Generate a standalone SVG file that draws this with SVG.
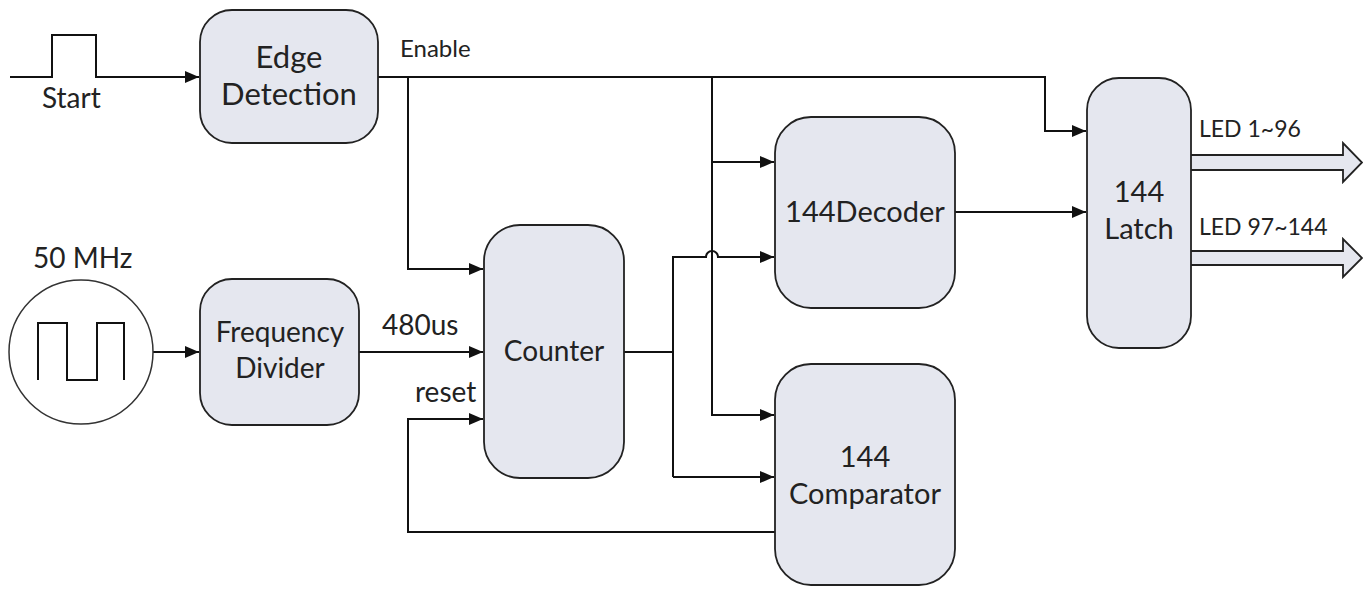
<svg xmlns="http://www.w3.org/2000/svg" width="1363" height="589" viewBox="0 0 1363 589">
<style>
.box{fill:#e5e7ef;stroke:#222;stroke-width:1.8}
.ln{fill:none;stroke:#111;stroke-width:2}
.t{font-family:Lato,"Liberation Sans",sans-serif;font-size:28px;fill:#222}
.n{font-size:29px}
.s{font-family:Lato,"Liberation Sans",sans-serif;font-size:23px;fill:#222}
.c{text-anchor:middle}
</style>
<defs>
<marker id="ah" viewBox="0 0 14 12" refX="14" refY="6" markerWidth="14" markerHeight="12" markerUnits="userSpaceOnUse" orient="auto">
<path d="M0,0 L14,6 L0,12 Z" fill="#111"/>
</marker>
</defs>
<rect width="1363" height="589" fill="#fff"/>
<g id="connectors">
<path class="ln" d="M10,77 H52 V35 H96 V77 H199" marker-end="url(#ah)"/>
<path class="ln" d="M378,77 H1045 V131 H1086" marker-end="url(#ah)"/>
<path class="ln" d="M408,77 V269 H483" marker-end="url(#ah)"/>
<path class="ln" d="M712,77 V415 H774" marker-end="url(#ah)"/>
<path class="ln" d="M712,162 H774" marker-end="url(#ah)"/>
<path class="ln" d="M153,352 H199" marker-end="url(#ah)"/>
<path class="ln" d="M359,352 H483" marker-end="url(#ah)"/>
<path class="ln" d="M624,352 H673"/>
<path class="ln" d="M673,477 V257 H706 A6,6 0 0 1 718,257 H774" marker-end="url(#ah)"/>
<path class="ln" d="M673,477 H774" marker-end="url(#ah)"/>
<path class="ln" d="M955,212 H1086" marker-end="url(#ah)"/>
<path class="ln" d="M775,532 H408 V419 H483" marker-end="url(#ah)"/>
<path class="box" d="M1191,155 H1343 V143 L1362,162.5 L1343,182 V170 H1191"/>
<path class="box" d="M1191,251 H1343 V239 L1362,258 L1343,277 V265 H1191"/>
</g>
<g id="start">
<text class="t" x="42" y="108">Start</text>
</g>
<g id="clock">
<circle cx="81" cy="352" r="72" fill="#fff" stroke="#333" stroke-width="1.5"/>
<path class="ln" d="M38,380 V323 H67 V380 H97 V323 H124 V380" stroke-width="1.5"/>
<text class="t" x="33" y="268">50 MHz</text>
</g>
<g id="edge-detection">
<rect class="box" x="200" y="10" width="178" height="133" rx="32"/>
<text class="t c" x="289" y="68" style="font-size:31px">Edge</text>
<text class="t c" x="289" y="105" style="font-size:31px">Detection</text>
</g>
<g id="frequency-divider">
<rect class="box" x="200" y="279" width="159" height="146" rx="32"/>
<text class="t c" x="280" y="342">Frequency</text>
<text class="t c" x="280" y="378">Divider</text>
</g>
<g id="counter">
<rect class="box" x="484" y="225" width="140" height="253" rx="36"/>
<text class="t c" x="554" y="361">Counter</text>
</g>
<g id="decoder">
<rect class="box" x="775" y="117" width="180" height="191" rx="36"/>
<text class="t n c" x="865" y="222">144Decoder</text>
</g>
<g id="comparator">
<rect class="box" x="775" y="364" width="180" height="221" rx="36"/>
<text class="t n c" x="865" y="467">144</text>
<text class="t n c" x="865" y="504">Comparator</text>
</g>
<g id="latch">
<rect class="box" x="1087" y="78" width="104" height="270" rx="32"/>
<text class="t n c" x="1139" y="202">144</text>
<text class="t n c" x="1139" y="239">Latch</text>
</g>
<g id="labels">
<text class="s" x="400" y="57" style="font-size:24px">Enable</text>
<text class="t" x="382" y="335">480us</text>
<text class="t" x="415" y="402">reset</text>
<text class="s" x="1199" y="137">LED 1~96</text>
<text class="s" x="1199" y="235">LED 97~144</text>
</g>
</svg>
